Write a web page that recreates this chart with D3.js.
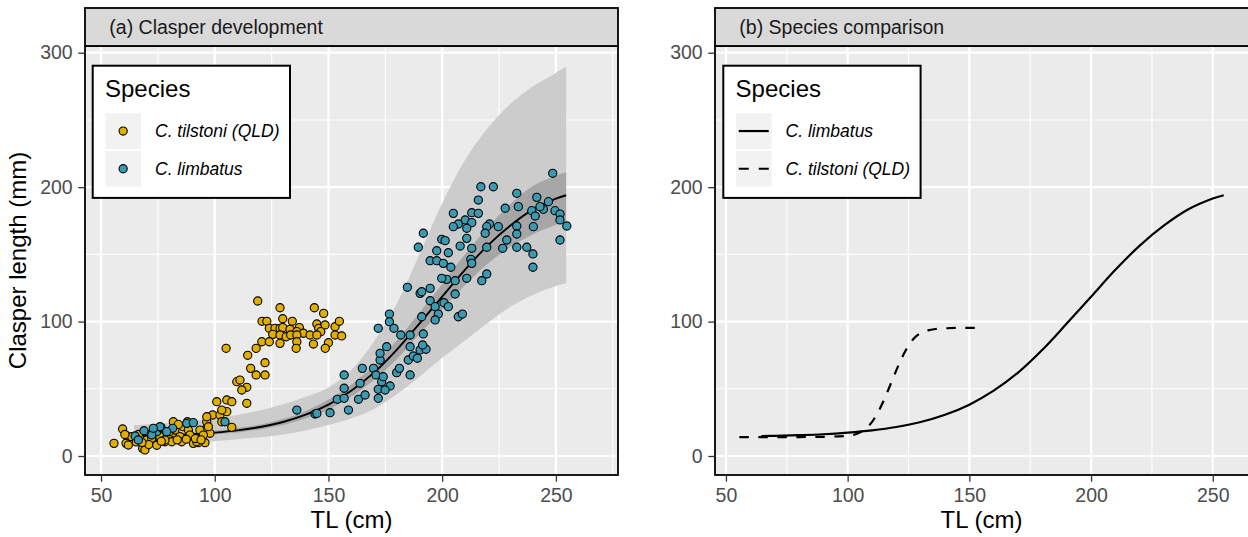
<!DOCTYPE html>
<html><head><meta charset="utf-8">
<script src="https://cdn.jsdelivr.net/npm/d3@7"></script>
<style>
html,body{margin:0;padding:0;background:#fff;}
svg{display:block;font-family:"Liberation Sans",Arial,Helvetica,sans-serif;}
</style></head>
<body>
<svg id="chart" width="1248" height="537"></svg>
<script>
// ---------- data ----------
const xTicks = [50, 100, 150, 200, 250];
const xMinor = [75, 125, 175, 225, 275];
const yTicks = [0, 100, 200, 300];
const yMinor = [50, 150, 250];
const panelTitles = ["(a) Clasper development", "(b) Species comparison"];
const legendTitle = "Species";
const speciesA = ["C. tilstoni (QLD)", "C. limbatus"];
const speciesB = ["C. limbatus", "C. tilstoni (QLD)"];
const xLabel = "TL (cm)";
const yLabel = "Clasper length (mm)";

const tilstoniTL = [118.9,128.7,143.8,147.9,120.8,122.9,129.9,134.1,124.0,126.5,128.7,129.9,133.1,137.2,136.1,139.0,141.9,144.9,145.7,148.5,146.6,152.9,154.8,152.9,155.8,125.5,128.7,131.4,133.4,136.1,144.9,120.7,124.0,128.7,136.1,135.8,143.4,150.0,148.6,118.2,105.0,114.5,122.1,115.8,118.2,122.1,109.7,111.1,114.1,111.9,114.1,100.9,105.3,107.5,99.1,102.3,105.3,103.1,107.5,96.5,97.9,95.7,
 55.7,59.5,61.3,61.0,62.0,63.5,67.2,68.3,69.3,70.1,72.3,73.7,75.2,77.4,78.1,79.6,81.1,82.5,84.7,85.5,81.8,86.2,88.4,89.1,90.6,92.8,93.5,95.0,96.5,
 72.3,75.9,78.1,82.5,92.1,97.2,96.5,103.1,65.5,66.5,71.0,74.5,76.5,80.0,83.5,87.5,91.5,94.0,60.5,68.0,88.0,84.0];
const tilstoniCL = [115.3,110.3,110.3,106.1,100.2,100.2,102.1,100.2,95.0,95.0,95.0,95.5,94.2,95.5,92.5,91.3,90.0,98.2,95.0,97.5,92.5,96.2,100.2,90.0,89.3,90.5,90.0,88.7,90.0,90.0,90.0,85.0,85.0,83.8,85.0,80.1,83.3,84.3,80.1,80.1,80.1,74.9,69.4,65.2,60.3,60.3,55.3,56.5,51.1,49.1,39.2,40.4,41.7,40.4,30.5,30.5,33.0,25.5,21.3,20.6,16.9,9.9,
 9.4,20.1,14.9,9.4,8.2,14.4,13.2,5.7,4.5,11.9,16.9,10.6,13.9,16.9,10.6,13.9,10.6,16.9,14.4,10.6,25.5,21.8,19.3,15.6,9.4,9.9,19.3,15.6,25.5,
 13.2,14.4,11.9,19.3,10.6,21.8,29.2,34.2,10.5,16.0,8.5,8.0,11.0,18.0,12.0,12.5,13.0,12.0,16.0,10.0,25.5,23.5];

const limbatusTL = [65.0,68.9,74.5,76.4,81.5,87.7,90.6,104.5,72.3,75.9,78.9,66.4,73.0,
 136.1,144.1,144.9,150.7,153.9,156.9,156.9,156.9,158.8,163.2,163.9,164.9,166.1,169.8,170.9,171.9,171.9,172.7,172.7,173.4,174.1,175.6,177.1,174.9,180.0,181.2,185.9,185.1,185.9,187.3,189.1,190.3,192.9,191.4,
 248.6,217.0,222.5,232.8,241.6,215.9,246.7,233.5,227.7,244.5,239.4,243.0,249.6,251.8,240.9,204.9,213.0,215.9,210.1,207.1,204.9,213.0,210.8,220.8,219.6,224.7,232.8,240.1,251.8,254.8,191.7,199.8,201.3,210.8,218.9,232.8,228.4,251.8,189.5,197.6,202.7,207.9,213.0,219.6,226.6,232.8,237.2,239.9,239.9,194.7,197.6,200.5,203.8,212.6,213.0,219.6,217.4,210.8,202.0,199.8,205.7,184.7,190.3,191.0,194.7,205.7,194.7,196.9,200.8,202.7,198.3,196.9,191.0,207.1,208.9,176.8,176.8,178.8,171.9,181.8,185.9,191.7];
const limbatusCL = [14.9,18.8,18.1,21.3,20.6,24.3,24.8,25.5,15.6,21.8,18.1,11.9,20.6,
 34.2,31.2,31.7,32.2,42.2,42.9,50.4,60.3,34.2,42.2,54.1,65.2,45.4,65.2,60.3,49.6,42.9,71.4,76.4,55.3,59.0,81.3,52.1,49.1,62.0,65.2,60.3,71.4,81.3,74.4,72.7,78.9,79.4,82.6,
 210.3,200.3,200.3,195.4,192.4,190.4,189.2,185.5,184.3,183.5,182.5,185.5,182.5,180.0,178.5,180.5,181.0,180.5,175.6,172.6,170.6,173.6,169.4,172.6,170.6,170.6,171.1,170.6,175.6,171.1,165.7,161.2,160.2,161.9,165.7,165.1,160.7,160.7,155.3,152.7,151.2,156.2,154.5,155.3,154.5,155.3,155.3,150.3,140.4,145.3,145.3,143.3,140.4,146.3,143.3,135.4,130.4,132.2,131.4,132.2,130.4,125.5,121.0,122.2,124.7,120.5,115.5,111.1,114.0,111.1,105.6,101.2,103.6,103.6,105.6,105.6,99.9,95.0,95.0,90.0,90.0,90.8];

// fitted curve + intervals for C. limbatus
const fitTL       = [64.5, 70, 80, 90, 100, 110, 120, 130, 140, 150, 160, 170, 180, 190, 200, 210, 220, 230, 240, 250, 254.5];
const limbatusFit = [14.8, 15.0, 15.5, 16.2, 17.4, 19.1, 21.6, 25.3, 30.7, 38.2, 48.6, 62.0, 79.0, 98.5, 118.5, 138.5, 156.5, 171.5, 183.5, 191.5, 194.0];
const innerLo     = [13.5, 13.8, 14.3, 15.0, 16.0, 17.5, 19.8, 23.0, 28.0, 34.5, 44.0, 56.5, 72.0, 90.5, 109.0, 127.0, 143.0, 155.5, 165.0, 172.0, 175.5];
const innerHi     = [16.0, 16.2, 16.7, 17.4, 18.8, 20.8, 23.5, 27.5, 33.5, 42.0, 53.0, 67.5, 86.0, 106.5, 128.0, 150.0, 170.0, 187.5, 201.0, 208.5, 211.0];
const outerLo     = [8.0, 8.5, 9.0, 10.0, 11.0, 12.5, 14.0, 16.0, 19.0, 23.0, 28.0, 35.0, 46.0, 59.0, 73.0, 86.0, 99.0, 111.0, 120.0, 126.5, 128.5];
const outerHi     = [23.0, 23.5, 24.5, 26.0, 28.0, 30.5, 34.0, 38.5, 44.0, 51.0, 64.0, 85.0, 113.0, 150.0, 188.0, 220.0, 244.0, 262.0, 275.0, 285.0, 289.5];

// fitted curve for C. tilstoni (QLD)
const tilstoniFitTL = [55.5, 60, 70, 80, 90, 100, 103, 106, 109, 112, 115, 118, 121, 124, 127, 130, 133, 136, 140, 145, 150, 155.5];
const tilstoniFit   = [14.0, 14.0, 14.0, 14.1, 14.3, 15.0, 16.0, 18.5, 23.0, 31.0, 42.0, 55.0, 68.0, 79.0, 87.0, 91.5, 93.5, 94.5, 95.0, 95.3, 95.3, 95.3];

const colTil = "#E1AF00", colLim = "#3B9AB2";

// ---------- layout ----------
const svg = d3.select("#chart");
const pTop = 46, pBottom = 475, stripTop = 8;
const panels = [
  {id:"a", left:85, right:618, dom:[42.96, 277.3], rEnd:618},
  {id:"b", left:715, right:1249, dom:[45.5, 264.6], rEnd:1248.3}
];
panels.forEach(p => { p.x = d3.scaleLinear().domain(p.dom).range([p.left, p.rEnd]); });
const y = d3.scaleLinear().domain([-14.13, 305]).range([pBottom, pTop]);
const smooth = d3.curveCatmullRom.alpha(0.5);

const defs = svg.append("defs");
panels.forEach(p => {
  defs.append("clipPath").attr("id","clip"+p.id).append("rect")
    .attr("x",p.left).attr("y",pTop).attr("width",p.right-p.left).attr("height",pBottom-pTop);
});

panels.forEach((p, i) => {
  const x = p.x;
  const g = svg.append("g");
  g.append("rect").attr("x",p.left).attr("y",pTop).attr("width",p.right-p.left).attr("height",pBottom-pTop).attr("fill","#EBEBEB");
  const gg = g.append("g").attr("clip-path","url(#clip"+p.id+")");
  gg.selectAll(".ymin").data(yMinor).join("line").attr("x1",p.left).attr("x2",p.right)
    .attr("y1",d=>y(d)).attr("y2",d=>y(d)).attr("stroke","#fff").attr("stroke-width",1.1);
  gg.selectAll(".xmin").data(xMinor).join("line").attr("y1",pTop).attr("y2",pBottom)
    .attr("x1",d=>x(d)).attr("x2",d=>x(d)).attr("stroke","#fff").attr("stroke-width",1.1);
  gg.selectAll(".ymaj").data(yTicks).join("line").attr("x1",p.left).attr("x2",p.right)
    .attr("y1",d=>y(d)).attr("y2",d=>y(d)).attr("stroke","#fff").attr("stroke-width",2.2);
  gg.selectAll(".xmaj").data(xTicks).join("line").attr("y1",pTop).attr("y2",pBottom)
    .attr("x1",d=>x(d)).attr("x2",d=>x(d)).attr("stroke","#fff").attr("stroke-width",2.2);

  if (p.id === "a") {
    const idx = d3.range(fitTL.length);
    const areaO = d3.area().x(k=>x(fitTL[k])).y0(k=>y(outerLo[k])).y1(k=>y(outerHi[k])).curve(smooth);
    const areaI = d3.area().x(k=>x(fitTL[k])).y0(k=>y(innerLo[k])).y1(k=>y(innerHi[k])).curve(smooth);
    gg.append("path").attr("d",areaO(idx)).attr("fill","#CCCCCC");
    gg.append("path").attr("d",areaI(idx)).attr("fill","#A6A6A6");
    const ln = d3.line().x(k=>x(fitTL[k])).y(k=>y(limbatusFit[k])).curve(smooth);
    gg.append("path").attr("d",ln(idx)).attr("fill","none").attr("stroke","#000").attr("stroke-width",1.9);
    const ti = d3.range(tilstoniTL.length), li = d3.range(limbatusTL.length);
    gg.selectAll(".pt").data(ti).join("circle").attr("cx",k=>x(tilstoniTL[k])).attr("cy",k=>y(tilstoniCL[k]))
      .attr("r",4.1).attr("fill",colTil).attr("stroke","#000").attr("stroke-width",1.1);
    gg.selectAll(".pl").data(li).join("circle").attr("cx",k=>x(limbatusTL[k])).attr("cy",k=>y(limbatusCL[k]))
      .attr("r",4.1).attr("fill",colLim).attr("stroke","#000").attr("stroke-width",1.1);
  } else {
    const idx = d3.range(fitTL.length), tdx = d3.range(tilstoniFitTL.length);
    const ln = d3.line().x(k=>x(fitTL[k])).y(k=>y(limbatusFit[k])).curve(smooth);
    const lt = d3.line().x(k=>x(tilstoniFitTL[k])).y(k=>y(tilstoniFit[k])).curve(d3.curveMonotoneX);
    gg.append("path").attr("d",lt(tdx)).attr("fill","none").attr("stroke","#000").attr("stroke-width",2.2).attr("stroke-dasharray","9.5,9.5");
    gg.append("path").attr("d",ln(idx)).attr("fill","none").attr("stroke","#000").attr("stroke-width",2.2);
  }

  g.append("rect").attr("x",p.left).attr("y",pTop).attr("width",p.right-p.left).attr("height",pBottom-pTop)
    .attr("fill","none").attr("stroke","#000").attr("stroke-width",1.8);
  g.append("rect").attr("x",p.left).attr("y",stripTop).attr("width",p.right-p.left).attr("height",pTop-stripTop)
    .attr("fill","#D9D9D9").attr("stroke","#000").attr("stroke-width",1.8);
  g.append("text").attr("x",p.left+24.3).attr("y",34).attr("font-size","19.5px").attr("fill","#1A1A1A").text(panelTitles[i]);

  const ya = svg.append("g").attr("transform",`translate(${p.left},0)`)
    .call(d3.axisLeft(y).tickValues(yTicks).tickSize(6.7).tickPadding(5.6).tickFormat(d3.format("d")));
  const xa = svg.append("g").attr("transform",`translate(0,${pBottom})`)
    .call(d3.axisBottom(x).tickValues(xTicks).tickSize(6.7).tickPadding(6.2).tickFormat(d3.format("d")));
  [ya, xa].forEach(a => {
    a.select(".domain").remove();
    a.selectAll(".tick line").attr("stroke","#333333").attr("stroke-width",1.3);
    a.selectAll(".tick text").attr("fill","#4D4D4D").attr("font-size","19.5px").attr("font-family",null);
  });
  svg.append("text").attr("x",(p.left+Math.min(p.right,1248))/2).attr("y",528).attr("text-anchor","middle")
    .attr("font-size","24px").attr("fill","#000").text(xLabel);

  const lx = (p.id==="a") ? 92.7 : 723.3;
  const L = svg.append("g");
  L.append("rect").attr("x",lx).attr("y",65.7).attr("width",197.3).attr("height",132.2)
    .attr("fill","#fff").attr("stroke","#000").attr("stroke-width",2);
  L.append("text").attr("x",lx+12.3).attr("y",96.7).attr("font-size","24px").attr("fill","#000").text(legendTitle);
  const labels = (p.id==="a") ? speciesA : speciesB;
  labels.forEach((lab, j) => {
    const ky = 113.3 + j*37.7;
    L.append("rect").attr("x",lx+12.7).attr("y",ky).attr("width",35.5).attr("height",35.5).attr("fill","#F2F2F2");
    const cx = lx+12.7+17.75, cy = ky+17.75;
    if (p.id==="a") {
      L.append("circle").attr("cx",cx).attr("cy",cy).attr("r",4.1)
        .attr("fill", j===0 ? colTil : colLim).attr("stroke","#000").attr("stroke-width",1.1);
    } else {
      L.append("line").attr("x1",cx-15).attr("x2",cx+15).attr("y1",cy).attr("y2",cy)
        .attr("stroke","#000").attr("stroke-width",2.2).attr("stroke-dasharray", j===0 ? null : "10,10");
    }
    L.append("text").attr("x",lx+62.3).attr("y",cy+6.3).attr("font-size","17.5px").attr("font-style","italic")
      .attr("fill","#000").text(lab);
  });
});

svg.append("text").attr("transform","translate(25.5,260.5) rotate(-90)").attr("text-anchor","middle")
  .attr("font-size","24px").attr("fill","#000").text(yLabel);
</script>
</body></html>
